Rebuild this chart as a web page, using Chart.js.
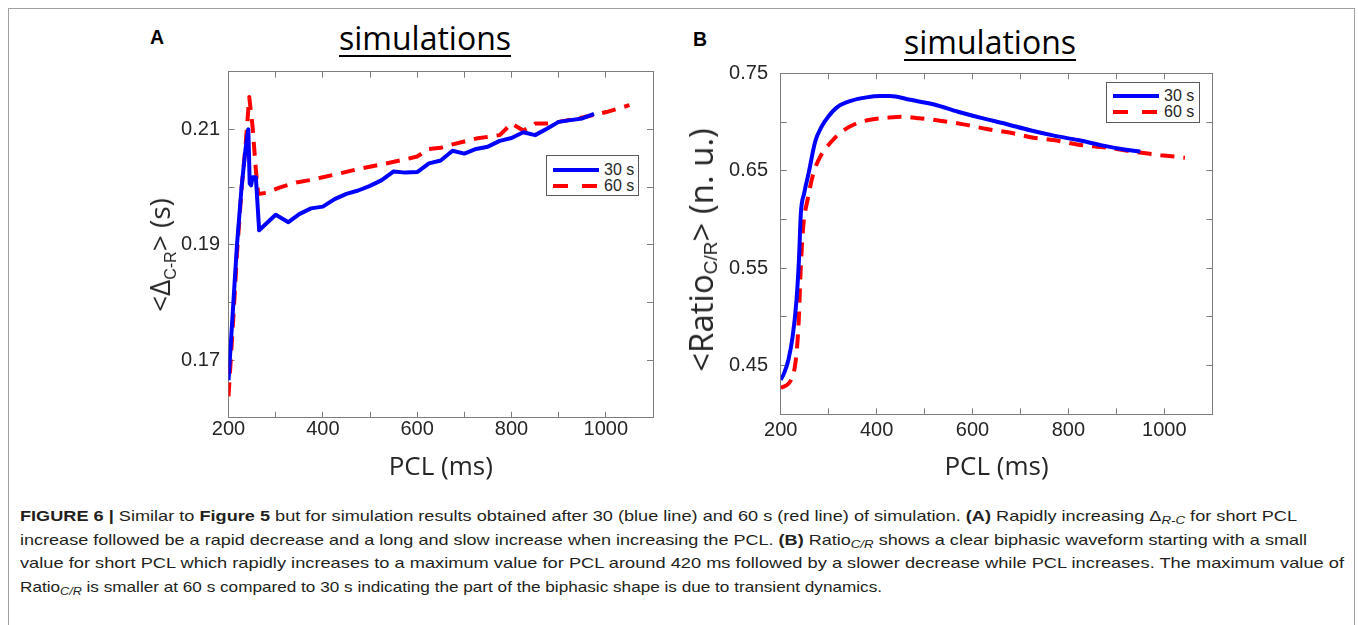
<!DOCTYPE html>
<html><head><meta charset="utf-8">
<script src="https://cdn.jsdelivr.net/npm/chart.js@4.4.1/dist/chart.umd.min.js"></script>
<style>
html,body{margin:0;padding:0;background:#fff;}
body{width:1358px;height:625px;position:relative;overflow:hidden;font-family:"Liberation Sans",Arial,sans-serif;color:#262626;}
#frame{position:absolute;left:8px;top:8px;width:1347px;height:700px;border:1px solid #a0a0a0;box-sizing:border-box;}
.plabel{position:absolute;font-weight:bold;font-size:19.5px;line-height:20px;color:#000;font-family:"Liberation Sans",Arial,sans-serif;}
.stitle{position:absolute;font-family:"Open Sans",sans-serif;font-size:32px;line-height:32px;color:#000;text-decoration:underline;text-decoration-thickness:2px;text-underline-offset:5px;transform:translateX(-50%);white-space:nowrap;}
.wrap{position:absolute;}
.ytitle{position:absolute;font-family:"Open Sans",sans-serif;color:#262626;white-space:nowrap;transform:translate(-50%,-50%) rotate(-90deg);line-height:30px;z-index:3;}
.ytitle sub{font-family:"Liberation Sans",Arial,sans-serif;line-height:0;}
.legend{position:absolute;border:1px solid #5a5a5a;background:#fff;box-sizing:border-box;z-index:4;}
.lrow{position:absolute;left:0;height:16px;display:flex;align-items:center;font-size:16px;color:#262626;}
.lrow svg{display:block;margin-right:5px;}
.cap{position:absolute;left:20px;font-size:15px;line-height:18px;color:#231f20;white-space:nowrap;transform-origin:0 0;}
.cap sub{font-size:11px;vertical-align:-3px;line-height:0;font-style:italic;}
</style>
</head><body>
<div id="frame"></div>
<div class="plabel" style="left:150px;top:27px">A</div>
<div class="plabel" style="left:693px;top:29px">B</div>
<div class="stitle" style="left:425px;top:22px">simulations</div>
<div class="stitle" style="left:990px;top:26px">simulations</div>

<div class="wrap" style="left:100px;top:60px;width:580px;height:425px"><canvas id="cA" width="580" height="425"></canvas></div>
<div class="wrap" style="left:650px;top:60px;width:590px;height:425px"><canvas id="cB" width="590" height="425"></canvas></div>

<div class="ytitle" style="left:159px;top:255px;font-size:28px">&lt;Δ<sub style="font-size:16px;vertical-align:-6px">C-R</sub>&gt; (s)</div>
<div class="ytitle" style="left:701px;top:250px;font-size:33px">&lt;Ratio<sub style="font-size:19px;vertical-align:-4px">C/R</sub>&gt; (n. u.)</div>

<div class="legend" id="legA" style="left:546px;top:155px;width:93px;height:41px"></div>
<div class="legend" id="legB" style="left:1106px;top:82px;width:94px;height:41px"></div>

<div class="cap" id="l1" style="top:507px"><b>FIGURE 6 |</b> Similar to <b>Figure 5</b> but for simulation results obtained after 30 (blue line) and 60 s (red line) of simulation. <b>(A)</b> Rapidly increasing Δ<sub>R-C</sub> for short PCL</div>
<div class="cap" id="l2" style="top:531px">increase followed be a rapid decrease and a long and slow increase when increasing the PCL. <b>(B)</b> Ratio<sub>C/R</sub> shows a clear biphasic waveform starting with a small</div>
<div class="cap" id="l3" style="top:554px">value for short PCL which rapidly increases to a maximum value for PCL around 420 ms followed by a slower decrease while PCL increases. The maximum value of</div>
<div class="cap" id="l4" style="top:578px">Ratio<sub>C/R</sub> is smaller at 60 s compared to 30 s indicating the part of the biphasic shape is due to transient dynamics.</div>

<script>
// ---------- data ----------
const seriesLabels = ['30 s', '60 s'];
const xTickLabels = [200, 400, 600, 800, 1000];
const yTickLabelsA = [0.17, 0.19, 0.21];
const yTickLabelsB = [0.45, 0.55, 0.65, 0.75];

// Panel A: <Delta C-R> (s) vs PCL (ms)
const pclA30 = [200, 210, 218, 228, 236, 242, 245, 248, 251, 258, 265, 300, 327, 350, 375, 400, 425, 450, 475, 500, 525, 550, 575, 600, 625, 650, 675, 700, 725, 750, 775, 800, 825, 850, 875, 900, 925, 950, 975];
const deltaA30 = [0.1665, 0.1795, 0.1900, 0.2002, 0.2065, 0.2100, 0.2006, 0.2003, 0.2017, 0.2017, 0.1925, 0.1952, 0.1939, 0.1953, 0.1963, 0.1966, 0.1979, 0.1988, 0.1994, 0.2002, 0.2012, 0.2027, 0.2025, 0.2026, 0.2041, 0.2046, 0.2063, 0.2058, 0.2066, 0.2070, 0.2080, 0.2085, 0.2095, 0.2090, 0.2101, 0.2113, 0.2116, 0.2119, 0.2127];
const pclA60 = [200, 210, 218, 228, 236, 244, 251, 258, 263, 280, 308, 344, 372, 400, 428, 474, 523, 575, 600, 625, 650, 675, 700, 725, 750, 775, 800, 825, 850, 875, 900, 953, 1001, 1050];
const deltaA60 = [0.1637, 0.1770, 0.1885, 0.2000, 0.2070, 0.2156, 0.2105, 0.2030, 0.1988, 0.1990, 0.1999, 0.2008, 0.2012, 0.2017, 0.2022, 0.2031, 0.2039, 0.2048, 0.2053, 0.2066, 0.2068, 0.2074, 0.2079, 0.2084, 0.2087, 0.2090, 0.2110, 0.2098, 0.2110, 0.2110, 0.2113, 0.2121, 0.2130, 0.2142];

// Panel B: <Ratio C/R> (n. u.) vs PCL (ms)
const pclB30 = [200, 207, 216, 225, 233, 238, 242, 249, 258, 272, 285, 299, 320, 348, 379, 407, 428, 470, 520, 570, 620, 670, 720, 770, 820, 870, 920, 950];
const ratioB30 = [0.4353, 0.4420, 0.4558, 0.4800, 0.5175, 0.5580, 0.6060, 0.6270, 0.6470, 0.6800, 0.6950, 0.7055, 0.7160, 0.7220, 0.7253, 0.7267, 0.7267, 0.7228, 0.7180, 0.7105, 0.7040, 0.6980, 0.6915, 0.6860, 0.6815, 0.6760, 0.6715, 0.6695];
const pclB60 = [200, 223, 231, 237, 242, 247, 256, 268, 282, 306, 327, 358, 383, 424, 455, 490, 532, 581, 630, 685, 727, 769, 818, 880, 936, 992, 1043];
const ratioB60 = [0.4267, 0.4370, 0.4540, 0.4900, 0.5520, 0.5930, 0.6200, 0.6470, 0.6640, 0.6800, 0.6900, 0.6986, 0.7020, 0.7045, 0.7055, 0.7038, 0.7014, 0.6976, 0.6928, 0.6884, 0.6839, 0.6815, 0.6770, 0.6736, 0.6695, 0.6660, 0.6634];

// ---------- helpers ----------
const AX = '#7d7d7d';
const TXT = '#262626';
const BLUE = '#0000ff', RED = '#ff0000';
function pts(xs, ys) { return xs.map((x, i) => ({x: x, y: ys[i]})); }
function isLabeled(list, v) { return list.some(l => Math.abs(l - v) < 1e-7); }
function noPad(s) { s.paddingTop = 0; s.paddingBottom = 0; s.paddingLeft = 0; s.paddingRight = 0; }

function makeOptions(o) {
  const tickFont = {family: 'Liberation Sans', size: 20};
  return {
    responsive: false, animation: false, devicePixelRatio: 1,
    layout: {padding: {left: 0, right: o.padRight, top: o.padTop, bottom: 0}},
    plugins: {legend: {display: false}, tooltip: {enabled: false}},
    scales: {
      x: {type: 'linear', position: 'bottom', min: o.xMin, max: o.xMax,
        ticks: {stepSize: 100, autoSkip: false, maxRotation: 0, minRotation: 0, padding: o.xPad, color: TXT, font: tickFont,
          callback: v => isLabeled(xTickLabels, v) ? String(v) : ''},
        grid: {drawOnChartArea: false, tickLength: -6, color: AX},
        border: {color: AX, width: 1},
        title: {display: true, text: 'PCL (ms)', color: TXT, font: {family: 'Open Sans', size: 26, lineHeight: 1.2}, padding: {top: 0, bottom: o.titlePad}},
        afterFit: s => { s.height = o.xH; noPad(s); }
      },
      x2: {type: 'linear', position: 'top', min: o.xMin, max: o.xMax,
        ticks: {display: false, stepSize: 100, autoSkip: false},
        grid: {drawOnChartArea: false, tickLength: -6, color: AX},
        border: {color: AX, width: 1},
        afterFit: s => { s.height = 0; noPad(s); }
      },
      y: {type: 'linear', position: 'left', min: o.yMin, max: o.yMax,
        ticks: {stepSize: o.yStep, autoSkip: false, padding: o.yPad, color: TXT, font: tickFont,
          callback: v => isLabeled(o.yLabels, v) ? v.toFixed(2) : ''},
        grid: {drawOnChartArea: false, tickLength: -6, color: AX},
        border: {color: AX, width: 1},
        afterFit: s => { s.width = o.yW; noPad(s); }
      },
      y2: {type: 'linear', position: 'right', min: o.yMin, max: o.yMax,
        ticks: {display: false, stepSize: o.yStep, autoSkip: false},
        grid: {drawOnChartArea: false, tickLength: -6, color: AX},
        border: {color: AX, width: 1},
        afterFit: s => { s.width = 0; noPad(s); }
      }
    }
  };
}

function ds(label, xs, ys, color, dash, smooth) {
  return {label: label, data: pts(xs, ys), borderColor: color, backgroundColor: color, borderWidth: 4,
    borderDash: dash, pointRadius: 0, fill: false, tension: 0,
    cubicInterpolationMode: smooth ? 'monotone' : 'default', borderCapStyle: 'butt', borderJoinStyle: 'round'};
}

function buildLegend(chart, el, rowTops) {
  chart.data.datasets.forEach((d, i) => {
    const row = document.createElement('div');
    row.className = 'lrow';
    row.style.top = (rowTops[i] - 8) + 'px';
    row.style.left = '6px';
    const dashAttr = d.borderDash && d.borderDash.length ? ' stroke-dasharray="15,14"' : '';
    row.innerHTML = '<svg width="46" height="6"><line x1="0" y1="3" x2="46" y2="3" stroke="' + d.borderColor +
      '" stroke-width="4"' + dashAttr + '/></svg><span>' + d.label + '</span>';
    el.appendChild(row);
  });
}

function fitCaption() {
  const targets = {l1: 1277, l2: 1287, l3: 1324, l4: 862};
  Object.keys(targets).forEach(id => {
    const el = document.getElementById(id);
    const w = el.getBoundingClientRect().width;
    el.style.transform = 'scaleX(' + (targets[id] / w) + ')';
  });
}

function draw() {
  const chartA = new Chart(document.getElementById('cA'), {
    type: 'line',
    data: {datasets: [
      ds(seriesLabels[0], pclA30, deltaA30, BLUE, [], false),
      ds(seriesLabels[1], pclA60, deltaA60, RED, [14, 9], false)
    ]},
    options: makeOptions({xMin: 200, xMax: 1100, yMin: 0.16, yMax: 0.22, yStep: 0.01, yLabels: yTickLabelsA,
      padRight: 27, padTop: 11.7, yW: 128.5, xH: 67.3, xPad: 6, yPad: 14.5, titlePad: 2})
  });
  const chartB = new Chart(document.getElementById('cB'), {
    type: 'line',
    data: {datasets: [
      ds(seriesLabels[0], pclB30, ratioB30, BLUE, [], true),
      ds(seriesLabels[1], pclB60, ratioB60, RED, [14, 9], true)
    ]},
    options: makeOptions({xMin: 200, xMax: 1100, yMin: 0.40, yMax: 0.75, yStep: 0.05, yLabels: yTickLabelsB,
      padRight: 27.7, padTop: 13.3, yW: 130.7, xH: 70.7, xPad: 10, yPad: 18.7, titlePad: 2})
  });
  buildLegend(chartA, document.getElementById('legA'), [14, 30]);
  buildLegend(chartB, document.getElementById('legB'), [13, 29]);
  fitCaption();
}

if (document.fonts && document.fonts.ready) { document.fonts.ready.then(draw); } else { draw(); }
</script>
</body></html>
